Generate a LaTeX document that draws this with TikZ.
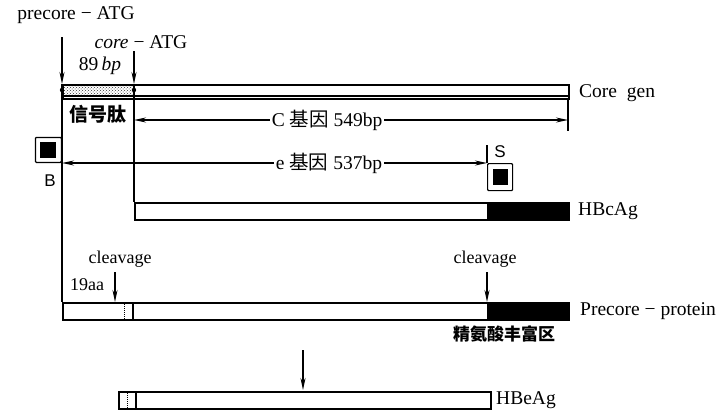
\documentclass[tikz,border=0pt]{standalone}
\usepackage{fontspec}
\setmainfont{Liberation Serif}
\newfontfamily\cjk{Noto Sans CJK SC}
\newfontfamily\sansf{Liberation Sans}
\usetikzlibrary{arrows.meta,patterns}
\begin{document}
\begin{tikzpicture}[x=1pt,y=-1pt,
  ln/.style={line width=1.4pt},
  arr/.style={ln,-{Stealth[length=12pt,width=5pt]}},
  lbl/.style={inner sep=0pt,font=\fontsize{19.5}{22}\selectfont},
  slbl/.style={inner sep=0pt,font=\fontsize{18}{20}\selectfont},
  cjkl/.style={inner sep=0pt,font=\cjk\bfseries\fontsize{17}{19}\selectfont},
  bar/.style={draw,line width=1.5pt,inner sep=0pt,anchor=north west,minimum height=17pt},
  sbox/.style={draw,line width=1.2pt,inner sep=0pt,rounded corners=1pt}]
\useasboundingbox (0,0) rectangle (725,413);

% top labels
\node[lbl] (pre) at (76,15) {precore − ATG};
\node[lbl] (coreatg) at (141,42) {\textit{core} − ATG};
\node[lbl] (bp89) at (100,66) {89\,\textit{bp}};
\coordinate (preT) at (62,37); \coordinate (preB) at (62,84);
\coordinate (coT) at (134,51); \coordinate (coB) at (134,84);
\draw[arr] (preT) -- (preB);
\draw[arr] (coT) -- (coB);

% core gene bar
\node[bar,minimum width=506pt,minimum height=14pt] (core) at (62,84) {};
\fill[pattern=crosshatch dots,pattern color=black!80] (62,86) rectangle (134,96);
\fill (62,90) circle (2.2pt) (134,90) circle (2.2pt);
\draw[ln] (62,96) -- (568,96);
\node[lbl,anchor=west] (coregen) at (579,93) {Core\ \ gen};

% vertical guide lines
\coordinate (L1) at (62,84); \coordinate (L2) at (62,302);
\coordinate (M1) at (134,84); \coordinate (M2) at (134,202);
\draw[ln] (L1) -- (L2);
\draw[ln] (M1) -- (M2);
\node[cjkl,font=\cjk\bfseries\fontsize{19}{21}\selectfont] (sig) at (98,114) {信号肽};

% C gene arrow
\node[lbl,fill=white,inner sep=2pt] (Cl) at (327,120) {C {\cjk 基因} 549bp};
\coordinate (Cl0) at (134,120); \coordinate (Cr0) at (568,120);
\draw[arr] (Cl) -- (Cl0);
\draw[arr] (Cl) -- (Cr0);
\coordinate (T1) at (568,98); \coordinate (T2) at (568,131);
\draw[ln] (T1) -- (T2);

% e gene arrow
\node[lbl,fill=white,inner sep=2pt] (el) at (329,163) {e {\cjk 基因} 537bp};
\coordinate (el0) at (62,163); \coordinate (er0) at (487,163);
\draw[arr] (el) -- (el0);
\draw[arr] (el) -- (er0);

% B box
\node[sbox,minimum width=26pt,minimum height=25pt,anchor=south east] (Bbox) at (62,163) {};
\fill (Bbox.center) ++(-8,-8) rectangle ++(16,16);
\node[inner sep=0pt,font=\sansf\fontsize{17}{19}\selectfont] (B) at (50,181) {B};

% S box
\node[sbox,minimum width=25pt,minimum height=27pt,anchor=north west] (Sbox) at (487,163) {};
\fill (Sbox.center) ++(-7.5,-8) rectangle ++(15,16);
\coordinate (Sb1) at (487,145);
\draw[ln] (Sb1) -- (Sbox.north west);
\node[inner sep=0pt,font=\sansf\fontsize{17}{19}\selectfont] (S) at (500,152) {S};

% HBcAg bar
\node[bar,minimum width=434pt] (hbc) at (134,202) {};
\fill (487,202) rectangle (568,219);
\node[lbl,anchor=west] (hbcl) at (578,211) {HBcAg};

% precore protein bar
\node[bar,minimum width=506pt] (prec) at (62,302) {};
\fill (487,302) rectangle (568,319);
\draw[line width=1.1pt] (133,302) -- (133,319);
\draw[line width=1pt,densely dotted] (124,302) -- (124,319);
\node[lbl,anchor=west] (precl) at (580,311) {Precore − protein};
\node[cjkl,anchor=west] (arg) at (453,334) {精氨酸丰富区};

% cleavage
\node[slbl] (cv1) at (120,259) {cleavage};
\node[slbl] (cv2) at (485,259) {cleavage};
\node[slbl] (aa) at (87,285) {19aa};
\coordinate (c1a) at (115,272); \coordinate (c1b) at (115,302);
\coordinate (c2a) at (487,272); \coordinate (c2b) at (487,302);
\draw[arr] (c1a) -- (c1b);
\draw[arr] (c2a) -- (c2b);

% processing arrow
\coordinate (pa) at (303,350); \coordinate (pb) at (303,390);
\draw[arr] (pa) -- (pb);

% HBeAg bar
\node[bar,minimum width=372pt] (hbe) at (118,391) {};
\draw[line width=1.1pt] (136,391) -- (136,408);
\draw[line width=1pt,densely dotted] (127,391) -- (127,408);
\node[lbl,anchor=west] (hbel) at (496,400) {HBeAg};
\end{tikzpicture}
\end{document}
